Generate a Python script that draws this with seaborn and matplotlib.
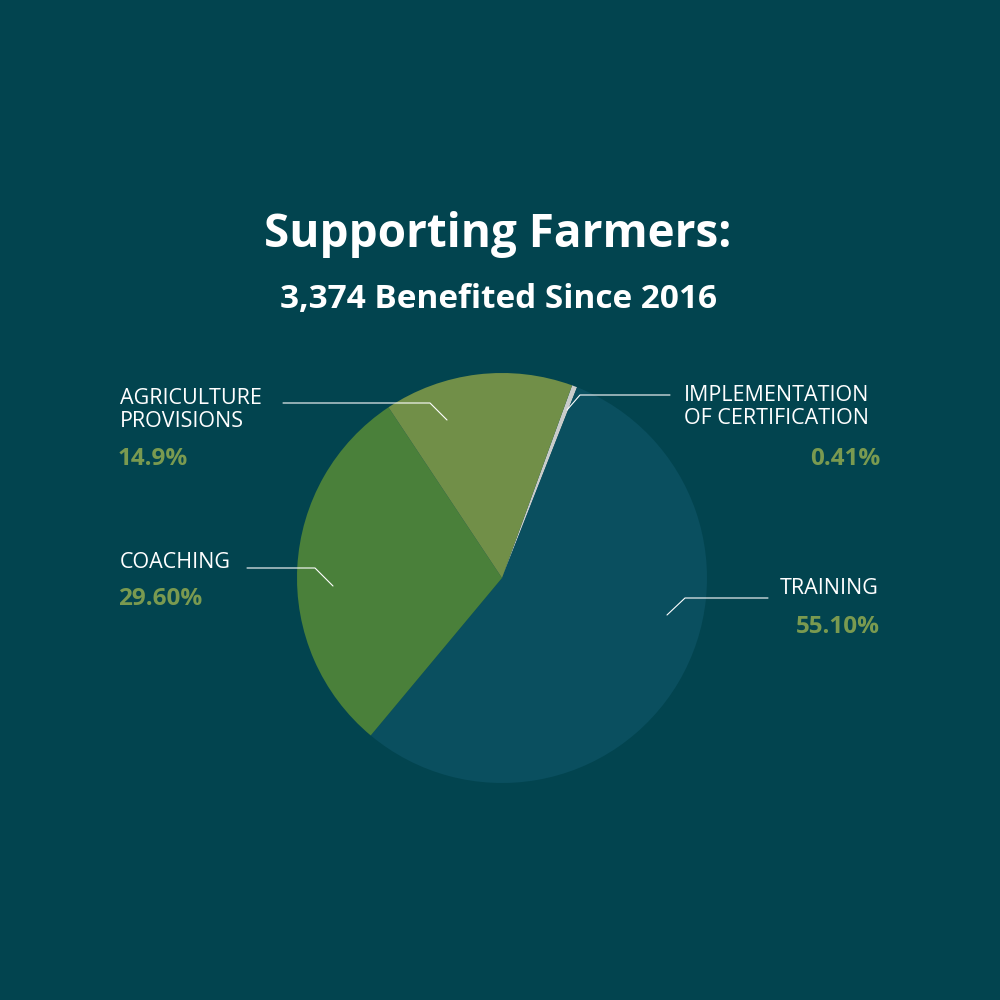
import matplotlib.pyplot as plt
import seaborn as sns

# Data
categories = ['IMPLEMENTATION\nOF CERTIFICATION', 'TRAINING', 'COACHING', 'AGRICULTURE\nPROVISIONS']
shares = [0.41, 55.10, 29.60, 14.9]
pct_labels = ['0.41%', '55.10%', '29.60%', '14.9%']
colors = ['#c9cccb', '#0a4f5f', '#4a803a', '#718f48']

bg = '#02444f'
green_txt = '#7a9a50'

sns.set_theme(style='white')
plt.rcParams['font.family'] = ['Open Sans', 'DejaVu Sans']

fig = plt.figure(figsize=(10, 10), dpi=100, facecolor=bg)
ax = fig.add_axes([0, 0, 1, 1])
ax.set_facecolor(bg)

ax.pie(shares, colors=colors, center=(502, 422), radius=205,
       startangle=70, counterclock=False,
       wedgeprops=dict(linewidth=0))
ax.set_xlim(0, 1000)
ax.set_ylim(0, 1000)
ax.set_aspect('equal')
ax.axis('off')

ax.text(498, 765, 'Supporting Farmers:', color='white', fontsize=33,
        fontweight='bold', ha='center', va='center')
ax.text(498, 700, '3,374 Benefited Since 2016', color='white', fontsize=24,
        fontweight='bold', ha='center', va='center')

# labels: (text x, text y, align, pct y, leader points, pct x, pct align)
layout = [
    (684, 593, 'left', 541, [(670, 605), (580, 605), (567, 590)], 880, 'right'),
    (780, 411, 'left', 373, [(768, 402), (685, 402), (667, 385)], 880, 'right'),
    (120, 438, 'left', 401, [(247, 432), (315, 432), (333, 414)], 118, 'left'),
    (120, 590, 'left', 541, [(283, 597), (430, 597), (447, 580)], 118, 'left'),
]
for name, pct, (tx, ty, ha, py, pts, px, pha) in zip(categories, pct_labels, layout):
    ax.text(tx, ty, name, color='white', fontsize=15.5, ha=ha, va='center',
            linespacing=1.15)
    ax.text(px, py, pct, color=green_txt, fontsize=17.5, fontweight='bold',
            ha=pha, va='center')
    xs, ys = zip(*pts)
    ax.plot(xs, ys, color='white', lw=0.8)

fig.savefig('out.png', dpi=100, facecolor=bg)
